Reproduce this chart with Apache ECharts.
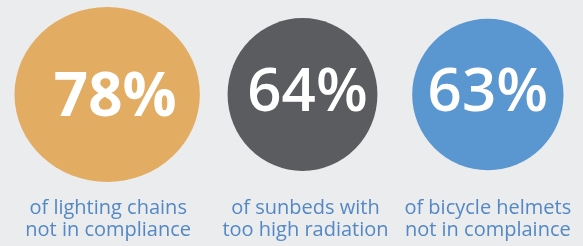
<!DOCTYPE html>
<html>
<head>
<meta charset="utf-8">
<script src="https://cdn.jsdelivr.net/npm/echarts@6/dist/echarts.min.js"></script>
<style>
  html, body { margin: 0; padding: 0; background: #ebecee; }
  #chart { width: 583px; height: 246px; }
</style>
</head>
<body>
<div id="chart"></div>
<script>
// shares of tested products failing the check
const categories = ['of lighting chains\nnot in compliance', 'of sunbeds with\ntoo high radiation', 'of bicycle helmets\nnot in complaince']
const percentValues = [78, 64, 63]
const circleColors = ['#e2ac62', '#5a5c5f', '#5a96d0']

// bubble diameter grows with the value
function diameter(v) {
  return 1.57 * v + 52.4
}
// small per-item nudges to follow the original layout
const stretchX = [1.06, 0.98, 1]
const nudgeX = [0, 5, 0]
const labelNudge = [[8, 4], [0, -1], [0, -1]]
const capColor = '#5388c4'

const chart = echarts.init(document.getElementById('chart'))
chart.setOption({
  backgroundColor: '#ebecee',
  grid: { left: 12, right: -10, top: 0, height: 189 },
  xAxis: {
    type: 'category',
    data: categories,
    axisLine: { show: false },
    axisTick: { show: false },
    axisLabel: {
      interval: 0,
      margin: 8,
      color: capColor,
      fontFamily: 'Open Sans',
      fontSize: 20,
      lineHeight: 22,
      formatter: (val, idx) => '{c' + idx + '|' + val.split('\n').join('}\n{c' + idx + '|') + '}',
      rich: {
        c0: { fontFamily: 'Open Sans', fontSize: 20, fontWeight: 500, lineHeight: 22, color: capColor, padding: [0, 0, 0, 2] },
        c1: { fontFamily: 'Open Sans', fontSize: 20, fontWeight: 500, lineHeight: 22, color: capColor, padding: [0, 0, 0, 16] },
        c2: { fontFamily: 'Open Sans', fontSize: 20, fontWeight: 500, lineHeight: 22, color: capColor, padding: [0, 0, 0, 0] }
      }
    }
  },
  yAxis: { type: 'value', min: 0, max: 1, show: false },
  series: [{
    type: 'scatter',
    symbol: 'circle',
    data: percentValues.map((v, i) => ({
      value: [i, 0.5, v],
      symbolSize: [diameter(v) * stretchX[i], diameter(v)],
      symbolOffset: [nudgeX[i], 0],
      itemStyle: { color: circleColors[i], opacity: 1 },
      label: {
        offset: [labelNudge[i][0] + nudgeX[i], labelNudge[i][1]],
        fontWeight: i === 0 ? 'bold' : 600
      }
    })),
    label: {
      show: true,
      position: 'inside',
      formatter: (p) => p.value[2] + '%',
      color: '#ffffff',
      fontFamily: 'Open Sans',
      fontSize: 60
    },
    emphasis: { disabled: true },
    silent: true
  }]
})
</script>
</body>
</html>
